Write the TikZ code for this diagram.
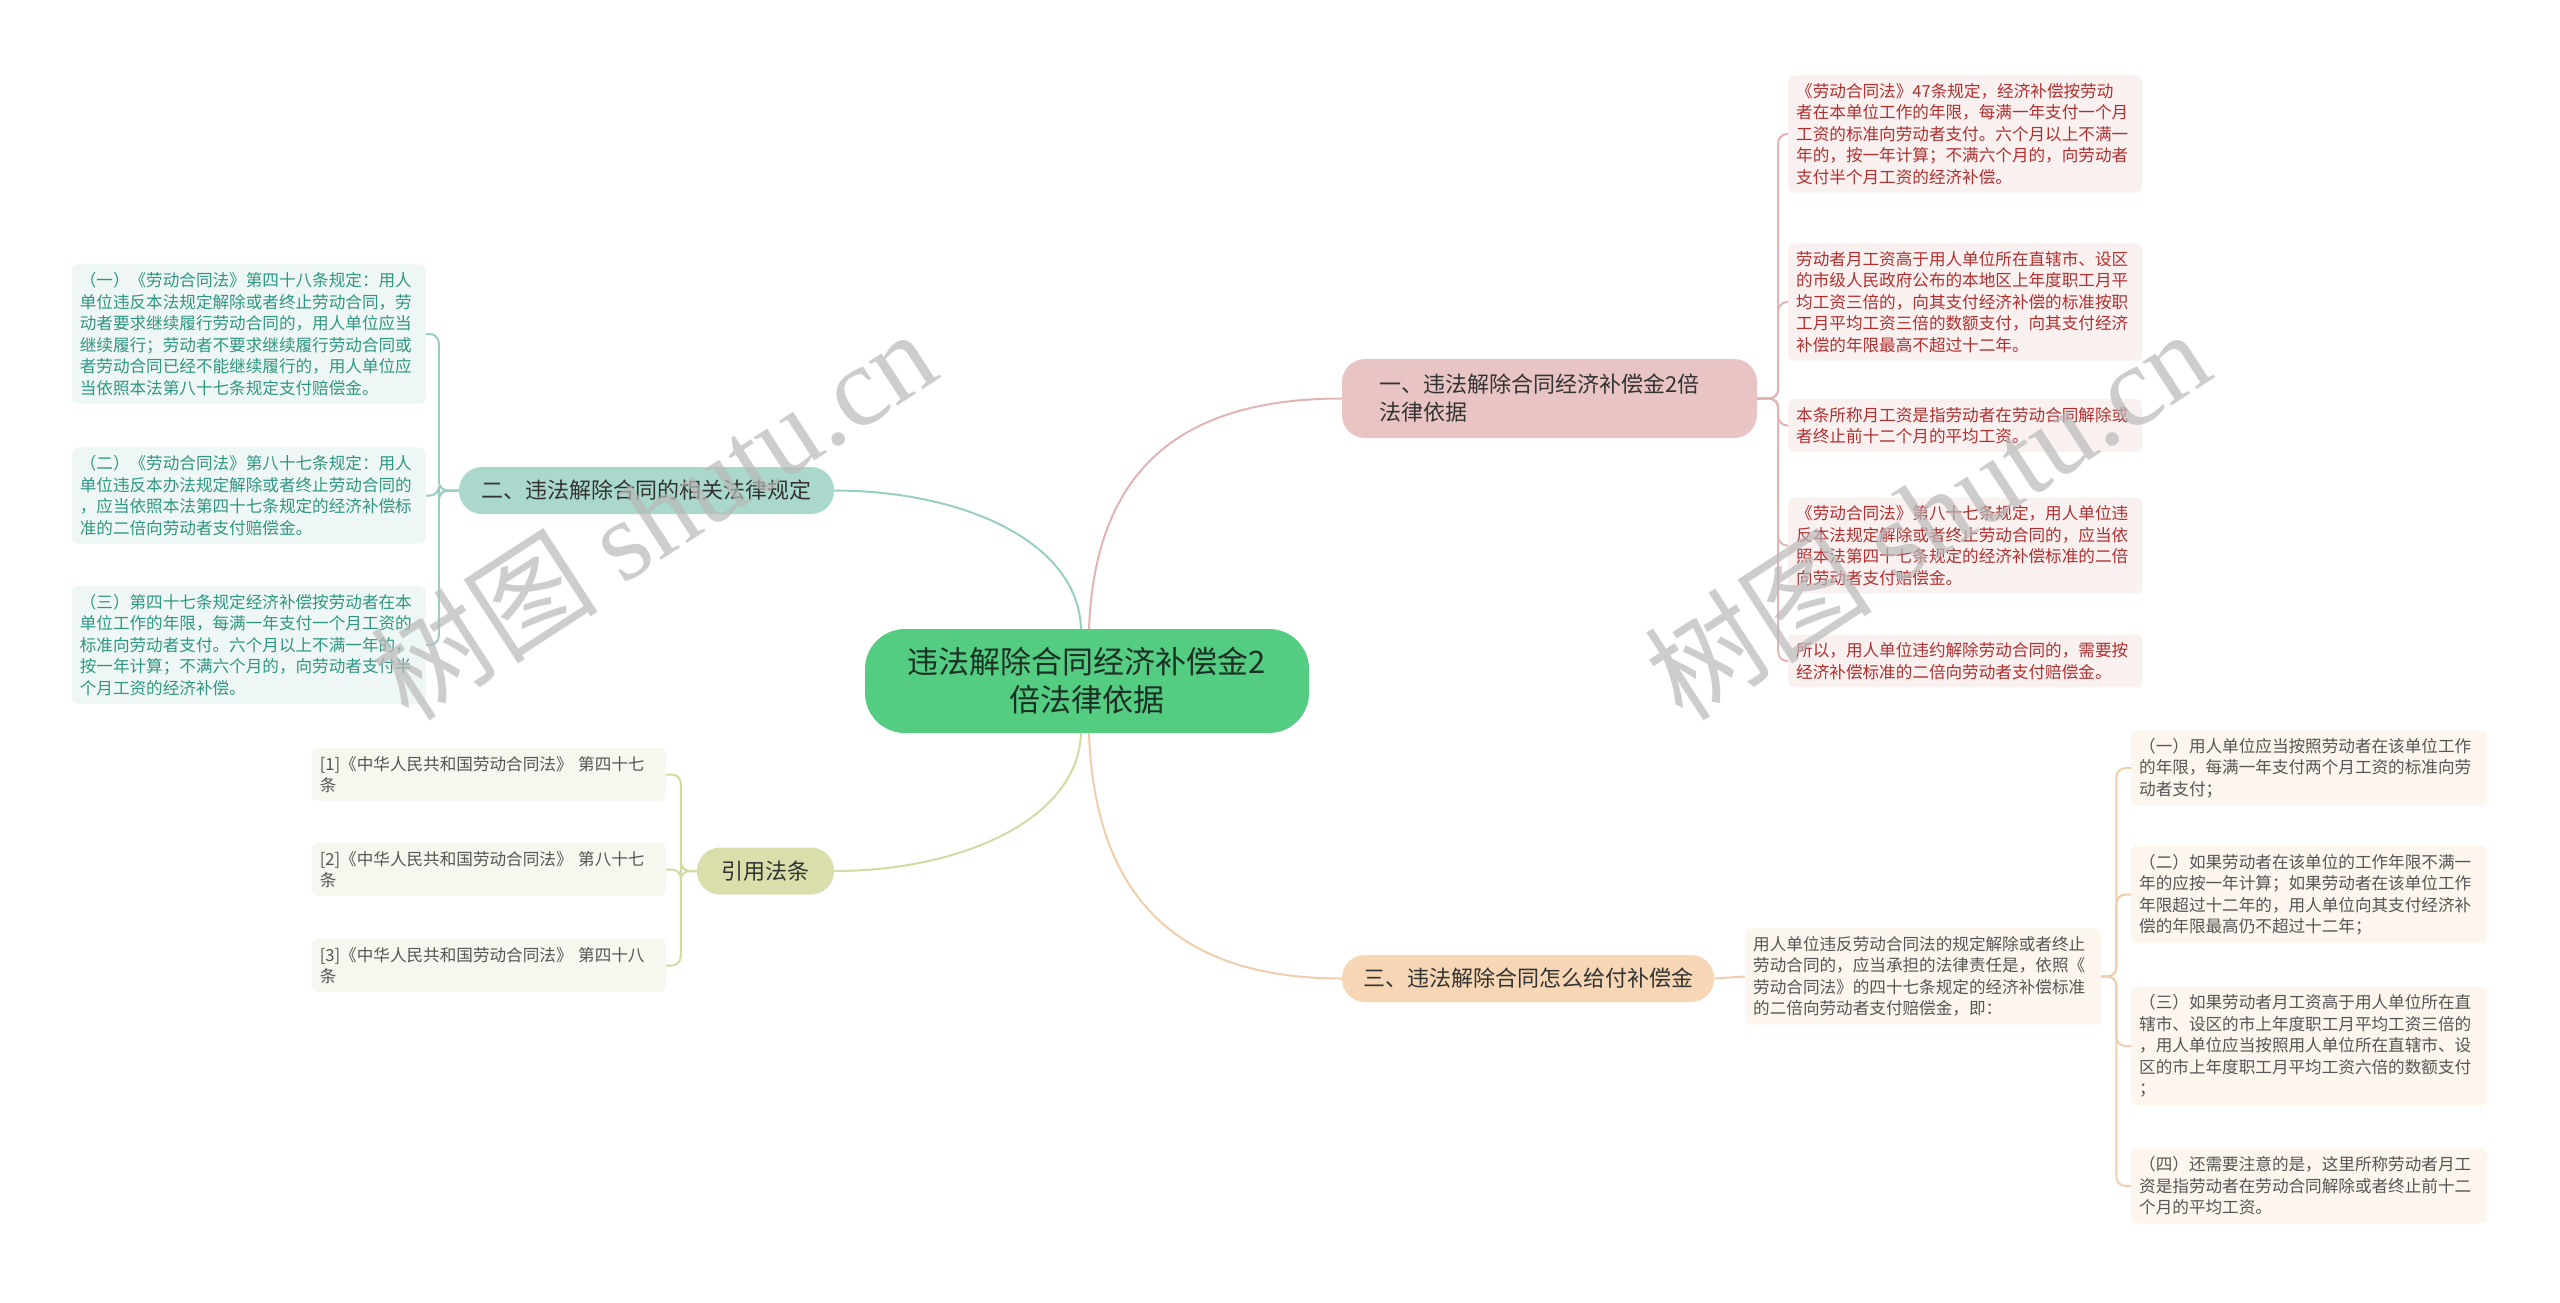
\documentclass[tikz,border=0pt]{standalone}
\usepackage{fontspec}
\setmainfont{Noto Sans CJK SC}
\newfontfamily\wmfont{Liberation Serif}
\usepackage{xcolor}
\usepackage{tikz}
\usetikzlibrary{positioning, calc}
\definecolor{rootgreen}{RGB}{84,204,130}
\definecolor{rootink}{RGB}{28,48,36}
\definecolor{branchink}{RGB}{51,51,51}
\definecolor{pinkfill}{RGB}{232,196,196}
\definecolor{pinkline}{RGB}{226,180,180}
\definecolor{pinkleaf}{RGB}{249,240,240}
\definecolor{redink}{RGB}{176,48,48}
\definecolor{tealfill}{RGB}{170,216,205}
\definecolor{tealline}{RGB}{152,206,196}
\definecolor{tealleaf}{RGB}{238,247,245}
\definecolor{tealink}{RGB}{48,150,130}
\definecolor{olivefill}{RGB}{217,222,170}
\definecolor{oliveline}{RGB}{212,218,164}
\definecolor{oliveleaf}{RGB}{246,247,238}
\definecolor{greyink}{RGB}{85,85,85}
\definecolor{peachfill}{RGB}{246,214,180}
\definecolor{peachline}{RGB}{240,206,172}
\definecolor{peachleaf}{RGB}{253,246,238}
\definecolor{wmgrey}{RGB}{185,185,185}
\tikzset{
  rootnode/.style={rectangle, fill=rootgreen, text=rootink, rounded corners=40pt,
    minimum width=444pt, minimum height=104pt, align=center,
    font=\fontsize{31}{38}\selectfont},
  branch/.style={rectangle, rounded corners=23pt, text=branchink, align=center,
    minimum height=47pt, font=\fontsize{22}{28}\selectfont},
  leaf/.style={rectangle, rounded corners=6pt, anchor=west, align=left,
    inner xsep=8pt, inner ysep=8pt, font=\fontsize{16.6}{21.5}\selectfont},
  redleaf/.style={leaf, fill=pinkleaf, text=redink, text width=338pt},
  tealleaf/.style={leaf, fill=tealleaf, text=tealink, text width=338pt},
  oliveleaf/.style={leaf, fill=oliveleaf, text=greyink, text width=338pt},
  peachleaf/.style={leaf, fill=peachleaf, text=greyink, text width=340pt},
  link/.style={line width=2pt},
  tree/.style={line width=2pt, rounded corners=9pt},
  watermark/.style={text=wmgrey, opacity=0.7, rotate=33, font=\fontsize{114}{120}\selectfont}
}

\begin{document}
\begin{tikzpicture}[x=1pt, y=-1pt]
  \useasboundingbox[fill=white] (0,0) rectangle (2560,1302);

  % centre and main branches
  \node[rootnode] (root) at (1087,681) {违法解除合同经济补偿金2\\倍法律依据};
  \node[branch, fill=pinkfill, minimum width=415pt, minimum height=79pt,
    text width=340pt, inner xsep=37.5pt, align=left] (law) at (1549.5,398.5)
    {一、违法解除合同经济补偿金2倍\\法律依据};
  \node[branch, fill=tealfill, minimum width=375pt] (rules) at (646.5,490.5) {二、违法解除合同的相关法律规定};
  \node[branch, fill=olivefill, minimum width=137pt] (cite) at (765.5,871) {引用法条};
  \node[branch, fill=peachfill, minimum width=372pt] (pay) at (1528,978.5) {三、违法解除合同怎么给付补偿金};

  % leaves of the first branch
  \node[redleaf] (lawa) at (1788,134) {《劳动合同法》47条规定，经济补偿按劳动\\者在本单位工作的年限，每满一年支付一个月\\工资的标准向劳动者支付。六个月以上不满一\\年的，按一年计算；不满六个月的，向劳动者\\支付半个月工资的经济补偿。};
  \node[redleaf] (lawb) at (1788,302) {劳动者月工资高于用人单位所在直辖市、设区\\的市级人民政府公布的本地区上年度职工月平\\均工资三倍的，向其支付经济补偿的标准按职\\工月平均工资三倍的数额支付，向其支付经济\\补偿的年限最高不超过十二年。};
  \node[redleaf] (lawc) at (1788,425.5) {本条所称月工资是指劳动者在劳动合同解除或\\者终止前十二个月的平均工资。};
  \node[redleaf] (lawd) at (1788,545.5) {《劳动合同法》第八十七条规定，用人单位违\\反本法规定解除或者终止劳动合同的，应当依\\照本法第四十七条规定的经济补偿标准的二倍\\向劳动者支付赔偿金。};
  \node[redleaf] (lawe) at (1788,661) {所以，用人单位违约解除劳动合同的，需要按\\经济补偿标准的二倍向劳动者支付赔偿金。};

  % leaves of the second branch
  \node[tealleaf, anchor=east] (rulea) at (426,334) {（一）《劳动合同法》第四十八条规定：用人\\单位违反本法规定解除或者终止劳动合同，劳\\动者要求继续履行劳动合同的，用人单位应当\\继续履行；劳动者不要求继续履行劳动合同或\\者劳动合同已经不能继续履行的，用人单位应\\当依照本法第八十七条规定支付赔偿金。};
  \node[tealleaf, anchor=east] (ruleb) at (426,495.5) {（二）《劳动合同法》第八十七条规定：用人\\单位违反本办法规定解除或者终止劳动合同的\\，应当依照本法第四十七条规定的经济补偿标\\准的二倍向劳动者支付赔偿金。};
  \node[tealleaf, anchor=east] (rulec) at (426,645) {（三）第四十七条规定经济补偿按劳动者在本\\单位工作的年限，每满一年支付一个月工资的\\标准向劳动者支付。六个月以上不满一年的，\\按一年计算；不满六个月的，向劳动者支付半\\个月工资的经济补偿。};

  % cited articles
  \node[oliveleaf, anchor=east] (cita) at (666,774.5) {[1]《中华人民共和国劳动合同法》 第四十七\\条};
  \node[oliveleaf, anchor=east] (citb) at (666,869.5) {[2]《中华人民共和国劳动合同法》 第八十七\\条};
  \node[oliveleaf, anchor=east] (citc) at (666,965.5) {[3]《中华人民共和国劳动合同法》 第四十八\\条};

  % the fourth branch
  \node[peachleaf, text width=340pt] (duty) at (1745,976.5) {用人单位违反劳动合同法的规定解除或者终止\\劳动合同的，应当承担的法律责任是，依照《\\劳动合同法》的四十七条规定的经济补偿标准\\的二倍向劳动者支付赔偿金，即：};
  \node[peachleaf] (paya) at (2131,768) {（一）用人单位应当按照劳动者在该单位工作\\的年限，每满一年支付两个月工资的标准向劳\\动者支付；};
  \node[peachleaf] (payb) at (2131,894.5) {（二）如果劳动者在该单位的工作年限不满一\\年的应按一年计算；如果劳动者在该单位工作\\年限超过十二年的，用人单位向其支付经济补\\偿的年限最高仍不超过十二年；};
  \node[peachleaf] (payc) at (2131,1046) {（三）如果劳动者月工资高于用人单位所在直\\辖市、设区的市上年度职工月平均工资三倍的\\，用人单位应当按照用人单位所在直辖市、设\\区的市上年度职工月平均工资六倍的数额支付\\；};
  \node[peachleaf] (payd) at (2131,1186) {（四）还需要注意的是，这里所称劳动者月工\\资是指劳动者在劳动合同解除或者终止前十二\\个月的平均工资。};

  % curves from the centre
  \draw[link, pinkline] ([xshift=2pt]root.north) .. controls (1095,470) and (1180,398.5) .. (law.west);
  \draw[link, tealline] ([xshift=-6pt]root.north) .. controls (1078,540) and (960,490.5) .. (rules.east);
  \draw[link, oliveline] ([xshift=-6pt]root.south) .. controls (1078,820) and (960,871) .. (cite.east);
  \draw[link, peachline] ([xshift=2pt]root.south) .. controls (1095,900) and (1180,978.5) .. (pay.west);

  % brackets to the leaves
  \foreach \leafname in {lawa, lawb, lawc, lawd, lawe}
    \draw[tree, pinkline] (law.east) -- ++(21,0) |- (\leafname.west);
  \foreach \leafname in {rulea, ruleb, rulec}
    \draw[tree, tealline] (rules.west) -- ++(-20,0) |- (\leafname.east);
  \foreach \leafname in {cita, citb, citc}
    \draw[tree, oliveline] (cite.west) -- ++(-16,0) |- (\leafname.east);
  \draw[link, peachline] (pay.east) -- (duty.west);
  \foreach \leafname in {paya, payb, payc, payd}
    \draw[tree, peachline] (duty.east) -- ++(15,0) |- (\leafname.west);

  % watermarks
  \node[watermark] (wmleft) at (653,514) {树图 {\wmfont shutu.cn}};
  \node[watermark] (wmright) at (1927,514) {树图 {\wmfont shutu.cn}};
\end{tikzpicture}
\end{document}
